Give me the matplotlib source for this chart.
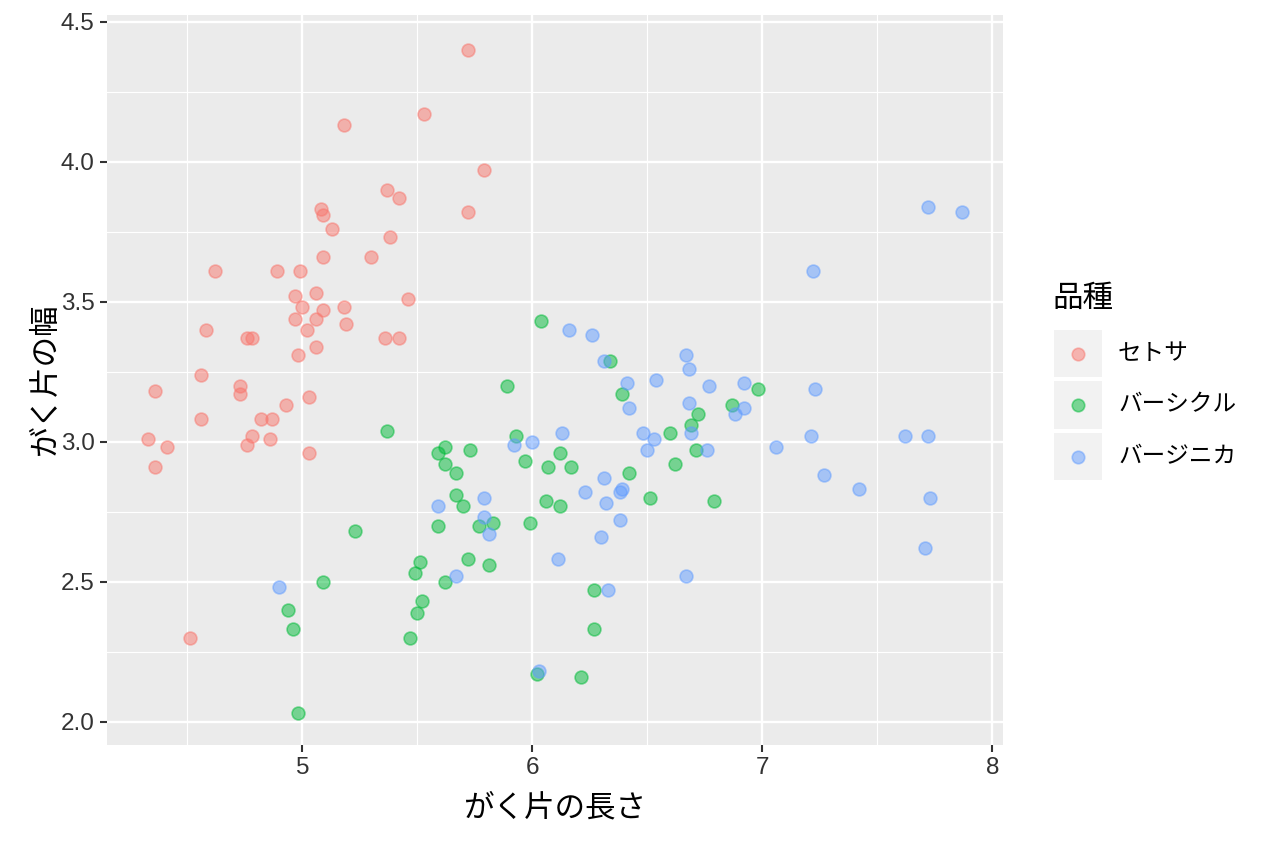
import numpy as np
import matplotlib
matplotlib.use("Agg")
import matplotlib.pyplot as plt
from matplotlib.patches import Rectangle

plt.rcParams['font.family'] = ['Noto Sans CJK JP', 'DejaVu Sans']

species = ['セトサ', 'バーシクル', 'バージニカ']
colors = ['#F8766D', '#00BA38', '#619CFF']

# がく片の長さ / がく片の幅 (jittered)
setosa_x = [5.72, 5.53, 5.18, 5.79, 5.37, 5.42, 5.08, 5.09, 5.13, 5.72,
            5.38, 5.09, 5.30, 4.62, 4.89, 4.99, 4.97, 5.06, 5.46, 5.00,
            5.09, 5.18, 5.19, 4.97, 5.06, 5.02, 4.58, 4.76, 4.78, 5.36,
            5.42, 5.06, 4.98, 4.56, 4.36, 4.73, 4.73, 4.93, 5.03, 4.56,
            4.82, 4.87, 4.78, 4.86, 4.76, 4.33, 4.41, 4.36, 5.03, 4.51]
setosa_y = [4.40, 4.17, 4.13, 3.97, 3.90, 3.87, 3.83, 3.81, 3.76, 3.82,
            3.73, 3.66, 3.66, 3.61, 3.61, 3.61, 3.52, 3.53, 3.51, 3.48,
            3.47, 3.48, 3.42, 3.44, 3.44, 3.40, 3.40, 3.37, 3.37, 3.37,
            3.37, 3.34, 3.31, 3.24, 3.18, 3.20, 3.17, 3.13, 3.16, 3.08,
            3.08, 3.08, 3.02, 3.01, 2.99, 3.01, 2.98, 2.91, 2.96, 2.30]

versicolor_x = [6.04, 6.34, 5.89, 6.39, 6.72, 6.69, 5.37, 5.93, 6.60, 6.71,
                6.62, 5.59, 5.62, 5.73, 5.62, 5.67, 5.97, 6.12, 6.07, 6.17,
                6.42, 6.51, 5.67, 5.70, 6.06, 6.12, 5.23, 5.59, 5.77, 5.83,
                5.99, 5.51, 5.49, 5.72, 5.81, 5.62, 6.27, 5.52, 5.50, 5.47,
                6.27, 6.02, 6.21, 5.09, 4.94, 4.96, 4.98, 6.98, 6.87, 6.79]
versicolor_y = [3.43, 3.29, 3.20, 3.17, 3.10, 3.06, 3.04, 3.02, 3.03, 2.97,
                2.92, 2.96, 2.98, 2.97, 2.92, 2.89, 2.93, 2.96, 2.91, 2.91,
                2.89, 2.80, 2.81, 2.77, 2.79, 2.77, 2.68, 2.70, 2.70, 2.71,
                2.71, 2.57, 2.53, 2.58, 2.56, 2.50, 2.47, 2.43, 2.39, 2.30,
                2.33, 2.17, 2.16, 2.50, 2.40, 2.33, 2.03, 3.19, 3.13, 2.79]

virginica_x = [7.72, 7.87, 7.22, 6.16, 6.26, 6.31, 6.67, 6.68, 6.41, 6.54,
               6.42, 6.68, 6.69, 5.92, 6.00, 6.13, 6.48, 6.53, 6.50, 6.31,
               6.39, 6.38, 6.23, 5.79, 5.59, 6.32, 5.79, 5.81, 6.38, 6.30,
               5.67, 6.11, 6.67, 6.33, 6.03, 4.90, 6.77, 6.92, 7.23, 6.88,
               6.92, 6.76, 7.06, 7.21, 7.62, 7.72, 7.27, 7.42, 7.73, 7.71]
virginica_y = [3.84, 3.82, 3.61, 3.40, 3.38, 3.29, 3.31, 3.26, 3.21, 3.22,
               3.12, 3.14, 3.03, 2.99, 3.00, 3.03, 3.03, 3.01, 2.97, 2.87,
               2.83, 2.82, 2.82, 2.80, 2.77, 2.78, 2.73, 2.67, 2.72, 2.66,
               2.52, 2.58, 2.52, 2.47, 2.18, 2.48, 3.20, 3.21, 3.19, 3.10,
               3.12, 2.97, 2.98, 3.02, 3.02, 3.02, 2.88, 2.83, 2.80, 2.62]

xs = [setosa_x, versicolor_x, virginica_x]
ys = [setosa_y, versicolor_y, virginica_y]

W, H = 1264, 843
fig = plt.figure(figsize=(W / 100, H / 100), dpi=100)
ax = fig.add_axes([107 / W, 1 - 745 / H, (1003 - 107) / W, (745 - 15) / H])
ax.set_facecolor('#EBEBEB')

for x, y, c in zip(xs, ys, colors):
    ax.scatter(x, y, s=85, color=c, alpha=0.5, edgecolors=c, linewidths=1.2, zorder=3)

ax.set_xlim(4.151, 8.047)
ax.set_ylim(1.917, 4.524)
ax.set_xticks([5, 6, 7, 8])
ax.set_xticks([4.5, 5.5, 6.5, 7.5], minor=True)
ax.set_yticks([2.0, 2.5, 3.0, 3.5, 4.0, 4.5])
ax.set_yticks(np.arange(2.25, 4.5, 0.5), minor=True)
ax.set_yticklabels(['2.0', '2.5', '3.0', '3.5', '4.0', '4.5'])
ax.grid(which='major', color='white', linewidth=1.7)
ax.grid(which='minor', color='white', linewidth=0.85)
ax.set_axisbelow(True)
for s in ax.spines.values():
    s.set_visible(False)
ax.tick_params(which='major', length=5, width=1.5, color='#333333',
               labelcolor='#333333', labelsize=17.5, pad=4)
ax.tick_params(which='minor', length=0)
for lab in ax.get_xticklabels() + ax.get_yticklabels():
    lab.set_family('Liberation Sans')

ax.set_xlabel('がく片の長さ', fontsize=22, color='black', labelpad=9)
ax.set_ylabel('がく片の幅', fontsize=22, color='black', labelpad=0)

# legend drawn by hand, ggplot style
def fx(px):
    return px / W

def fy(py):
    return 1 - py / H

fig.text(fx(1052), fy(298), '品種', fontsize=22, ha='left', va='center')
for i, (lab, c) in enumerate(zip(species, colors)):
    top = 330 + i * 51.5
    fig.patches.append(Rectangle((fx(1054), fy(top + 47)), 48 / W, 47 / H,
                                 transform=fig.transFigure, facecolor='#F2F2F2',
                                 edgecolor='none'))
    cy = top + 23.5
    fig.add_artist(plt.Line2D([fx(1078)], [fy(cy)], marker='o', markersize=9,
                              color=c, alpha=0.5, markeredgewidth=1.2,
                              markeredgecolor=c, transform=fig.transFigure))
    fig.text(fx(1118), fy(cy), lab, fontsize=17, ha='left', va='center')

fig.savefig('out.png', dpi=100)
